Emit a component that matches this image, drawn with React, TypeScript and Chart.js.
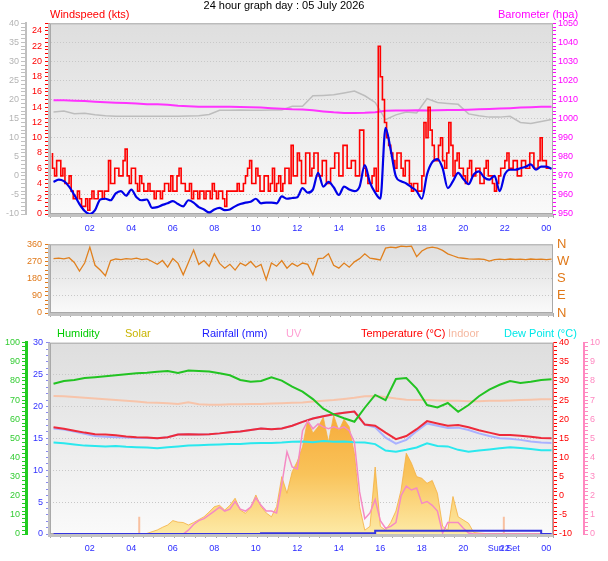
import React, { useEffect, useRef } from "react";
import { Chart, registerables } from "chart.js";
Chart.register(...registerables);

const FONT = "'Liberation Sans', Arial, sans-serif";
const X_MIN = 0.08;
const X_MAX = 24.32;

// time grids in hours
const T_GUST = Array.from({ length: 241 }, (_, i) => Math.round((0.2 + i * 0.1) * 100) / 100);
const T_Q = Array.from({ length: 97 }, (_, i) => 0.25 + i * 0.25);
const T_H = Array.from({ length: 49 }, (_, i) => 0.25 + i * 0.5);

// x-axis tick labels
const HOUR_TICKS = [2, 4, 6, 8, 10, 12, 14, 16, 18, 20, 22, 24];
const HOUR_LABELS = ["02", "04", "06", "08", "10", "12", "14", "16", "18", "20", "22", "00"];

// wind gust (kts), every 6 min from 00:12
const windGust = [
  8, 6, 5, 7, 7, 5, 6, 4,
  4, 5, 3, 2, 2, 3, 2, 1, 1, 2,
  0.5, 2, 3, 2, 2, 3, 3, 2, 3, 3,
  7, 4, 4, 6, 6, 5, 5, 7, 8.5, 5,
  4, 6, 6, 4, 3, 5, 4, 3, 3, 4,
  3, 3, 2, 3, 3, 2, 3, 4, 4, 3,
  5, 3, 3, 5, 6, 4, 4, 3, 3, 4,
  2, 3, 3, 2, 3, 3, 2, 3, 3, 2,
  4, 3, 2, 3, 3, 2, 1, 3, 3, 3,
  3, 3, 4, 3, 3, 4, 5, 6, 7, 4,
  4, 6, 5, 3, 3, 5, 5, 3, 4, 6,
  3, 4, 5, 3, 4, 6, 6, 4, 9, 5,
  5, 8, 7, 4, 4, 8, 8, 5, 6, 8,
  8, 5, 5, 7, 7, 4, 4, 6, 6, 8,
  8, 5, 5, 9, 9, 6, 6, 7, 7, 5,
  5, 11, 11, 6, 5, 4, 4, 5, 6, 3,
  22, 18, 15, 12, 10, 9, 8, 7, 6, 8,
  8, 6, 5, 7, 7, 4, 3, 4, 4, 3,
  3, 5, 12, 10, 14, 11, 9, 7, 7, 9,
  10, 7, 6, 8, 12, 9, 5, 7, 8, 6,
  6, 5, 4, 6, 7, 5, 5, 6, 6, 4,
  4, 6, 7, 5, 5, 4, 3, 4, 5, 6,
  6, 7, 8, 6, 6, 7, 7, 5, 5, 7,
  7, 6, 6, 8, 8, 6, 6, 7, 10, 7,
  7, 6, 6,
];

// average wind (kts), every 15 min
const windAvg = [
  4.2, 4.5, 4.3, 3.6, 2.5, 1.3, 0.4, 0, 0.5, 1.9,
  2.0, 1.8, 2.7, 3.0, 2.4, 3.2, 2.2, 1.8, 1.9, 0.8,
  0.9, 1.2, 1.4, 1.7, 1.3, 1.0, 1.8, 1.5, 0.9, 0.6,
  0.2, 0.6, 0.8, 0.5, 0.6, 1.0, 1.3, 1.5, 1.6, 2.0,
  1.4, 1.5, 1.5, 1.4, 2.3, 2.0, 2.1, 2.2, 3.4, 2.8,
  3.2, 5.4, 3.6, 4.2, 3.5, 2.5, 3.6, 3.2, 3.0, 3.6,
  6.4, 4.1, 2.8, 2.0, 11.3, 8.4, 4.9, 4.3, 4.0, 3.5,
  3.0, 2.0, 5.2, 6.8, 7.2, 6.0, 3.4, 4.3, 5.4, 4.6,
  3.9, 5.2, 5.6, 4.8, 4.5, 5.0, 3.0, 5.2, 5.8, 5.8,
  6.0, 6.2, 6.5, 5.8, 6.2, 6.2, 5.9,
];

// barometer (hpa), every 30 min
const baro = [
  1009.7, 1009.6, 1009.4, 1009.2, 1008.9, 1008.6, 1008.4, 1008.2, 1007.9, 1007.6,
  1007.5, 1007.3, 1006.8, 1006.5, 1006.2, 1006.3, 1006.2, 1006.2, 1006.1, 1006.0,
  1005.8, 1005.5, 1005.2, 1004.9, 1004.8, 1004.4, 1003.8, 1003.3, 1003.0, 1003.0,
  1003.1, 1003.4, 1004.2, 1004.3, 1004.3, 1004.4, 1004.3, 1004.4, 1004.5, 1004.6,
  1004.7, 1004.9, 1005.1, 1005.3, 1005.5, 1005.8, 1006.0, 1006.2, 1006.2,
];

// grey trace (hpa), every 30 min
const baroGrey = [
  1003.5, 1004.0, 1002.6, 1002.8, 1002.0, 1001.5, 1001.3, 1001.3, 1001.3, 1001.3,
  1001.3, 1001.3, 1001.3, 1001.4, 1001.5, 1002.2, 1004.4, 1004.4, 1004.5, 1004.4,
  1004.4, 1004.5, 1004.6, 1006.5, 1006.5, 1012.0, 1012.2, 1012.5, 1013.5, 1014.5,
  1012.0, 1008.5, 999.5, 1002.0, 1003.5, 1003.0, 1010.5, 1008.5, 1008.0, 1007.5,
  1002.5, 1001.5, 1000.8, 1000.8, 1001.2, 998.0, 997.5, 998.5, 999.5,
];

// wind direction (deg), every 15 min
const windDir = [
  285, 288, 284, 290, 265, 220, 262, 345, 250, 225,
  195, 275, 283, 280, 285, 282, 287, 280, 284, 270,
  255, 275, 240, 285, 260, 200, 265, 330, 255, 275,
  245, 310, 260, 235, 255, 225, 262, 248, 270, 240,
  255, 175, 262, 245, 275, 235, 260, 245, 262, 255,
  200, 285, 288, 310, 250, 235, 262, 240, 268, 285,
  310, 287, 283, 278, 340, 345, 342, 350, 348, 350,
  295, 325, 340, 345, 340, 328, 310, 300, 290, 287,
  284, 282, 283, 281, 272, 280, 282, 280, 283, 281,
  282, 280, 283, 281, 282, 280, 282,
];

// bottom panel, every 30 min
const humidity = [
  78.5, 80, 80.5, 81.5, 82, 82.5, 83, 83.5, 84, 84.3,
  84.8, 85.2, 84.2, 85.5, 85.2, 85, 84, 83, 80.5, 79.6,
  80, 81.9, 80.2, 77, 74.4, 70.5, 65.5, 62.5, 60.5, 58.7,
  66, 72.7, 70, 81, 81.5, 76, 67.4, 66.2, 68.5, 63.9,
  67.4, 72, 75.5, 78, 80, 79, 79.6, 80.5, 80.9,
];
const temperature = [
  17.9, 17.5, 17.0, 16.5, 16.1, 16.0, 15.8, 15.5, 15.3, 15.2,
  15.0, 15.3, 16.0, 16.1, 16.0, 16.1, 16.3, 16.6, 16.8, 17.2,
  17.6, 17.4, 17.6, 18.3, 19.3, 20.2, 20.8, 21.3, 21.7, 22.0,
  18.6, 18.3, 16.5, 14.8, 15.6, 17.4, 19.5, 18.9, 18.3, 18.5,
  17.9, 17.1, 16.5, 15.9, 15.9, 15.7, 15.4, 15.1, 15.0,
];
const feelsLike = [
  17.6, 17.3, 16.8, 16.2, 15.6, 15.4, 15.3, 15.2, 15.1, 15.1,
  15.0, 15.3, 16.0, 16.1, 16.0, 16.1, 16.3, 16.6, 16.8, 17.2,
  17.6, 17.4, 17.6, 18.3, 19.3, 20.2, 20.8, 21.3, 21.7, 22.0,
  18.6, 17.9, 15.2, 13.6, 14.6, 16.9, 18.9, 18.3, 17.7, 17.8,
  17.2, 16.3, 15.6, 15.0, 14.9, 14.6, 14.2, 13.9, 13.8,
];
const dewPoint = [
  13.9, 13.7, 13.4, 13.1, 13.0, 12.9, 13.0, 12.8, 12.7, 12.6,
  12.4, 12.7, 12.9, 13.1, 13.2, 13.3, 13.4, 13.5, 13.5, 13.7,
  13.8, 13.8, 13.9, 14.1, 14.2, 14.0, 14.3, 14.1, 14.2, 14.0,
  13.9, 13.5, 11.8, 11.5, 12.0, 12.6, 13.7, 13.0, 12.9, 12.0,
  11.5, 11.8, 12.1, 12.4, 12.7, 12.5, 12.2, 11.9, 11.9,
];
const indoor = [
  26.1, 26.0, 25.8, 25.6, 25.4, 25.2, 25.0, 24.8, 24.6, 24.4,
  24.3, 24.2, 24.0, 24.4, 23.9, 23.8, 23.8, 23.9, 23.9, 24.0,
  24.0, 24.1, 24.2, 24.3, 24.4, 24.6, 24.8, 25.0, 25.3, 25.6,
  26.0, 26.1, 25.8, 25.4, 25.1, 25.0, 25.0, 24.9, 24.8, 24.8,
  24.7, 24.7, 24.8, 24.8, 24.9, 25.0, 25.1, 25.2, 25.2,
];
const rainfall = [
  0, 0, 0, 0, 0, 0, 0, 0, 0, 0,
  0, 0, 0, 0, 0, 0, 0, 0, 0, 0,
  0, 0.1, 0.1, 0.1, 0.1, 0.1, 0.1, 0.1, 0.1, 0.1,
  0.1, 0.1, 0.5, 0.5, 0.5, 0.5, 0.5, 0.5, 0.5, 0.5,
  0.5, 0.5, 0.5, 0.5, 0.5, 0.5, 0.5, 0.5, 0,
];

// every 15 min
const solar = [
  0, 0, 0, 0, 0, 0, 0, 0, 0, 0, 0, 0, 0, 0, 0, 0, 0, 0,
  3, 12, 21, 35, 47, 70, 62, 60, 47, 60,
  75, 90, 115, 143, 150, 125, 150, 187, 125, 108,
  140, 204, 143, 110, 90, 143, 300, 213, 326, 380,
  456, 600, 527, 560, 610, 480, 620, 540, 600, 560,
  420, 143, 20, 40, 350, 40, 20, 60, 120, 230,
  422, 370, 300, 291, 265, 280, 213, 40, 20, 196,
  90, 73, 56, 8, 5, 3,
  0, 0, 0, 0, 0, 0, 0, 0, 0, 0, 0, 0, 0,
];
const uv = [
  0, 0, 0, 0, 0, 0, 0, 0, 0, 0, 0, 0, 0, 0, 0, 0, 0, 0, 0, 0, 0, 0, 0, 0, 0, 0,
  0.2, 0.5, 0.7, 0.8, 1.0, 1.2, 1.4, 1.2, 1.3, 1.7,
  1.3, 1.2, 1.4, 1.9, 1.5, 1.2, 1.2, 1.1, 2.6, 4.3,
  3.5, 3.4, 5.4, 5.9, 5.5, 5.75, 5.6, 5.5, 5.6, 5.5,
  5.6, 5.4, 4.8, 2.2, 0.8, 1.1, 1.8, 0.7, 0.3, 0.4,
  0.6, 2.0, 2.5, 2.3, 2.4, 1.6, 1.7, 1.5, 1.2, 0.05,
  0.6, 0.6, 0.6, 0.3, 0.05,
  0, 0, 0, 0, 0, 0, 0, 0, 0, 0, 0, 0, 0, 0, 0, 0,
];

const SUN_EVENTS = [4.38, 21.95];
const SUN_MARK = 90;
const COMPASS: Record<number, string> = { 0: "N", 90: "E", 180: "S", 270: "W", 360: "N" };

const near = (v: number, m: number) => Math.abs(v / m - Math.round(v / m)) < 1e-6;
const pts = (xs: number[], ys: number[]) => ys.map((y, i) => ({ x: xs[i], y }));
const CLEAR = "rgba(0,0,0,0)";

function xAxis(h: number, grid: boolean) {
  return {
    type: "linear",
    position: "bottom",
    min: X_MIN,
    max: X_MAX,
    bounds: "data",
    ticks: {
      stepSize: 0.5,
      includeBounds: false,
      autoSkip: false,
      maxRotation: 0,
      minRotation: 0,
      display: false,
    },
    grid: {
      drawOnChartArea: grid,
      color: (c: any) => (c.tick && near(c.tick.value, 2) ? "#c8c8c8" : CLEAR),
      tickColor: "#a8a8a8",
      tickLength: 4,
    },
    border: { display: false, dash: [1, 2] },
    afterFit: (s: any) => {
      s.height = h;
    },
  };
}

function yAxis(o: any) {
  return {
    type: "linear",
    position: o.pos,
    weight: o.weight ?? 0,
    min: o.min,
    max: o.max,
    display: o.display ?? true,
    ticks: {
      stepSize: o.step,
      autoSkip: false,
      color: o.color,
      font: { family: FONT, size: o.size ?? 9 },
      padding: o.pad ?? 2,
      callback: (v: any) => {
        const n = Number(v);
        if (!near(n, o.every)) return "";
        return o.fmt ? o.fmt(n) : String(Math.round(n));
      },
    },
    grid: {
      drawOnChartArea: !!o.gridEvery,
      color: (c: any) =>
        o.gridEvery && c.tick && near(c.tick.value, o.gridEvery) && c.tick.value > o.min && c.tick.value < o.max
          ? "#c8c8c8"
          : CLEAR,
      tickColor: o.tickColor ?? o.color,
      tickLength: o.tickLen ?? 4,
    },
    border: { display: !!o.border, color: o.border ?? CLEAR, width: o.borderWidth ?? 1, dash: [1, 2] },
    afterFit: (s: any) => {
      s.width = o.width;
    },
  };
}

type Txt = { text: string; x: number; y: number; color: string; size: number; align?: CanvasTextAlign };

function panelPlugin(id: string, labelY: number | null, texts: (chart: any) => Txt[]) {
  return {
    id,
    beforeDraw(chart: any) {
      const { ctx, chartArea: a } = chart;
      const g = ctx.createLinearGradient(0, a.top, 0, a.bottom);
      g.addColorStop(0, "#dedede");
      g.addColorStop(0.5, "#ebebeb");
      g.addColorStop(1, "#fafafa");
      ctx.save();
      ctx.fillStyle = g;
      ctx.fillRect(a.left, a.top, a.right - a.left, a.bottom - a.top);
      ctx.restore();
    },
    beforeDatasetsDraw(chart: any) {
      const { ctx, chartArea: a } = chart;
      ctx.save();
      ctx.strokeStyle = "#a9a9a9";
      ctx.lineWidth = 1;
      ctx.strokeRect(a.left + 0.5, a.top + 0.5, a.right - a.left - 1, a.bottom - a.top - 1);
      ctx.fillStyle = "#c2c2c2";
      ctx.fillRect(a.left - 2, a.top, 2, a.bottom - a.top + 3);
      ctx.fillRect(a.left - 2, a.bottom, a.right - a.left + 2, 3);
      ctx.restore();
    },
    afterDraw(chart: any) {
      const { ctx } = chart;
      const list: Txt[] = [];
      if (labelY !== null) {
        const xs = chart.scales.x;
        HOUR_TICKS.forEach((h, i) => {
          list.push({ text: HOUR_LABELS[i], x: xs.getPixelForValue(h), y: labelY, color: "#2b2bff", size: 9, align: "center" });
        });
      }
      list.push(...texts(chart));
      ctx.save();
      for (const t of list) {
        ctx.font = `${t.size}px ${FONT}`;
        ctx.fillStyle = t.color;
        ctx.textAlign = t.align ?? "left";
        ctx.textBaseline = "middle";
        ctx.fillText(t.text, t.x, t.y);
      }
      ctx.restore();
    },
  };
}

const baseOptions = (top: number) => ({
  animation: false,
  responsive: false,
  maintainAspectRatio: false,
  events: [],
  layout: { padding: { top, left: 0, right: 0, bottom: 0 } },
  plugins: { legend: { display: false }, tooltip: { enabled: false } },
  elements: { point: { radius: 0 } },
});

function configTop(): any {
  return {
    type: "line",
    data: {
      datasets: [
        { data: pts(T_Q, windAvg), yAxisID: "yWind", borderColor: "#0000e8", borderWidth: 2.2, cubicInterpolationMode: "monotone", order: 1 },
        { data: pts(T_GUST, windGust), yAxisID: "yWind", borderColor: "#ff0000", borderWidth: 1.6, stepped: "after", order: 2 },
        { data: pts(T_H, baro), yAxisID: "yBaro", borderColor: "#ff33ff", borderWidth: 2, order: 3 },
        { data: pts(T_H, baroGrey), yAxisID: "yBaro", borderColor: "#bdbdbd", borderWidth: 1.5, order: 4 },
      ],
    },
    options: {
      ...baseOptions(23.3),
      scales: {
        x: xAxis(26, true),
        yGrey: yAxis({ pos: "left", weight: 1, min: -10, max: 40, step: 1, every: 5, color: "#b4b4b4", tickColor: "#c0c0c0", width: 26, gridEvery: 5, border: "#c0c0c0", borderWidth: 2, tickLen: 5 }),
        yWind: yAxis({ pos: "left", weight: 0, min: 0, max: 25, step: 0.5, every: 2, color: "#ff0000", width: 24, tickLen: 5, pad: 3 }),
        yBaro: yAxis({ pos: "right", min: 950, max: 1050, step: 2, every: 10, color: "#ff00ff", width: 55, tickLen: 3, pad: 2 }),
      },
    },
    plugins: [
      panelPlugin("panelTop", 229, () => [
        { text: "24 hour graph day : 05 July 2026", x: 284, y: 6, color: "#000000", size: 11, align: "center" },
        { text: "Windspeed (kts)", x: 50, y: 14.5, color: "#ff0000", size: 11 },
        { text: "Barometer (hpa)", x: 498, y: 14.5, color: "#ff00ff", size: 11 },
      ]),
    ],
  };
}

function configMid(): any {
  return {
    type: "line",
    data: {
      datasets: [{ data: pts(T_Q, windDir), yAxisID: "yDir", borderColor: "#e0801e", borderWidth: 1.3 }],
    },
    options: {
      ...baseOptions(14.3),
      scales: {
        x: xAxis(12, false),
        yDir: yAxis({ pos: "left", min: 0, max: 360, step: 22.5, every: 90, color: "#e07818", width: 50, gridEvery: 90, tickLen: 5, pad: 3 }),
        yCompass: yAxis({ pos: "right", min: 0, max: 360, step: 90, every: 90, color: "#e07818", tickColor: CLEAR, width: 55, tickLen: 0, pad: 4, size: 13, fmt: (v: number) => COMPASS[Math.round(v)] ?? "" }),
      },
    },
    plugins: [panelPlugin("panelMid", null, () => [])],
  };
}

function configBottom(): any {
  const solarFill = (ctx: any) => {
    const ca = ctx.chart.chartArea;
    if (!ca) return CLEAR;
    const g = ctx.chart.ctx.createLinearGradient(0, ca.top + (ca.bottom - ca.top) * 0.3, 0, ca.bottom);
    g.addColorStop(0, "#f6a531");
    g.addColorStop(0.55, "#f9c35a");
    g.addColorStop(1, "#fdeaa6");
    return g;
  };
  return {
    type: "line",
    data: {
      datasets: [
        { data: pts(T_H, rainfall), yAxisID: "yRain", borderColor: "#3434e0", borderWidth: 2, stepped: "after", order: 1 },
        { data: pts(T_Q, uv), yAxisID: "yUV", borderColor: "#f58ac4", borderWidth: 1.5, order: 2 },
        { data: pts(T_H, humidity), yAxisID: "yHum", borderColor: "#22c322", borderWidth: 2, order: 3 },
        { data: pts(T_H, temperature), yAxisID: "yTemp", borderColor: "#ee2a3a", borderWidth: 2, order: 4 },
        { data: pts(T_H, dewPoint), yAxisID: "yTemp", borderColor: "#2ae8ee", borderWidth: 2, order: 5 },
        { data: pts(T_H, feelsLike), yAxisID: "yTemp", borderColor: "#aab2ff", borderWidth: 2, order: 6 },
        { data: pts(T_H, indoor), yAxisID: "yTemp", borderColor: "#f7c4aa", borderWidth: 2, order: 7 },
        ...SUN_EVENTS.map((t) => ({
          data: [{ x: t, y: 0 }, { x: t, y: SUN_MARK }],
          yAxisID: "ySolar",
          borderColor: "#f8c0a0",
          borderWidth: 2,
          order: 8,
        })),
        { data: pts(T_Q, solar), yAxisID: "ySolar", borderColor: "#f5b040", borderWidth: 0.8, fill: "origin", backgroundColor: solarFill, order: 10 },
      ],
    },
    options: {
      ...baseOptions(22.7),
      scales: {
        x: xAxis(27, true),
        yHum: yAxis({ pos: "left", weight: 1, min: 0, max: 100, step: 2, every: 10, color: "#33cc33", tickColor: "#22cc22", width: 26, border: "#22cc22", borderWidth: 3, tickLen: 4, pad: 2 }),
        yRain: yAxis({ pos: "left", weight: 0, min: 0, max: 30, step: 1, every: 5, color: "#3333ff", tickColor: "#8888ee", width: 24, gridEvery: 5, tickLen: 4, pad: 3 }),
        yTemp: yAxis({ pos: "right", weight: 0, min: -10, max: 40, step: 1, every: 5, color: "#ff0000", width: 31, border: "#ff6666", tickLen: 4, pad: 2 }),
        yUV: yAxis({ pos: "right", weight: 1, min: 0, max: 10, step: 0.2, every: 1, color: "#ff88c0", width: 24, border: "#ff88c0", borderWidth: 2, tickLen: 4, pad: 2 }),
        ySolar: { type: "linear", display: false, min: 0, max: 1000 },
      },
    },
    plugins: [
      panelPlugin("panelBottom", 229, (chart: any) => [
        { text: "Humidity", x: 57, y: 13.5, color: "#00cc00", size: 11 },
        { text: "Solar", x: 125, y: 13.5, color: "#c8b400", size: 11 },
        { text: "Rainfall (mm)", x: 202, y: 13.5, color: "#1a1aff", size: 11 },
        { text: "UV", x: 286, y: 13.5, color: "#ffa0d4", size: 11 },
        { text: "Temperature (°C)", x: 361, y: 13.5, color: "#ff0000", size: 11 },
        { text: "Indoor", x: 448, y: 13.5, color: "#f5b8a0", size: 11 },
        { text: "Dew Point (°C)", x: 504, y: 13.5, color: "#00e8e8", size: 11 },
        { text: "Sun Set", x: chart.scales.x.getPixelForValue(SUN_EVENTS[1]), y: 229, color: "#2b2bff", size: 9, align: "center" },
      ]),
    ],
  };
}

export default function App() {
  const topRef = useRef<HTMLCanvasElement>(null);
  const midRef = useRef<HTMLCanvasElement>(null);
  const botRef = useRef<HTMLCanvasElement>(null);

  useEffect(() => {
    const charts = [
      new Chart(topRef.current as HTMLCanvasElement, configTop()),
      new Chart(midRef.current as HTMLCanvasElement, configMid()),
      new Chart(botRef.current as HTMLCanvasElement, configBottom()),
    ];
    return () => charts.forEach((c) => c.destroy());
  }, []);

  return (
    <div style={{ position: "absolute", left: 0, top: 0, width: 608, height: 561, background: "#ffffff", overflow: "hidden" }}>
      <canvas ref={topRef} width={608} height={240} style={{ position: "absolute", left: 0, top: 0 }} />
      <canvas ref={midRef} width={608} height={95} style={{ position: "absolute", left: 0, top: 230 }} />
      <canvas ref={botRef} width={608} height={241} style={{ position: "absolute", left: 0, top: 320 }} />
    </div>
  );
}
